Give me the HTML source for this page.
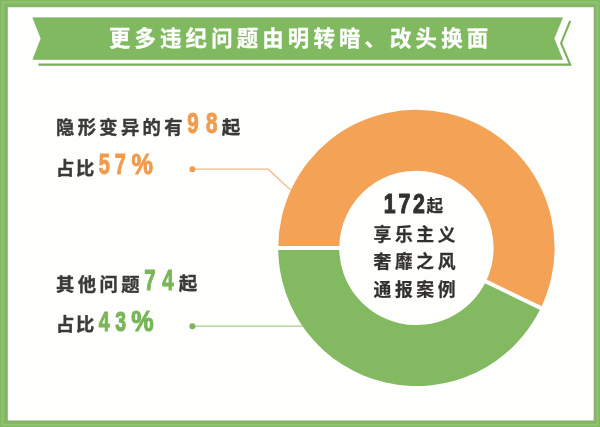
<!DOCTYPE html>
<html lang="zh-CN">
<head>
<meta charset="utf-8">
<title>更多违纪问题由明转暗、改头换面</title>
<style>
html,body{margin:0;padding:0;background:#fff;}
body{width:600px;height:427px;overflow:hidden;}
svg{display:block;}
.cjk{font-family:"Liberation Sans","Noto Sans CJK SC",sans-serif;font-weight:700;}
.lb{stroke:#3a3a38;stroke-width:0.4;stroke-linejoin:round;}
.cb{stroke:#33312f;stroke-width:0.25;stroke-linejoin:round;}
.num{font-family:"Liberation Sans",sans-serif;font-weight:700;}
</style>
</head>
<body>
<svg width="600" height="427" viewBox="0 0 600 427">
  <!-- frame -->
  <rect x="0" y="0" width="600" height="427" fill="#82b862"/>
  <rect x="2.6" y="2.4" width="595" height="422.4" fill="none" stroke="#8ec46c" stroke-width="2.2"/>
  <rect x="7.2" y="6.7" width="587" height="414.3" fill="#fefefc" stroke="#84aa6c" stroke-width="1"/>

  <!-- banner shadow outline -->
  <polyline points="570.2,20.9 561.1,43.2 570.2,64.6 38.4,64.6" fill="none" stroke="#79b05b" stroke-width="2.1" stroke-linejoin="miter"/>
  <!-- banner -->
  <polygon points="32.8,17.8 562.5,17.8 554,38.6 562.5,59.4 32.9,59.4 41,38.6" fill="#80b960" stroke="#74ab58" stroke-width="0.6"/>
  <text class="cjk" x="108.9" y="46.1" font-size="21.4" letter-spacing="4.17" fill="#fff" stroke="#fff" stroke-width="0.3">更多违纪问题由明转暗、改头换面</text>

  <!-- donut -->
  <path fill="#f4a256" d="M278.20,247.90 A138.2 138.2 0 1 1 540.82,308.05 L485.90,281.50 A77.2 77.2 0 1 0 339.20,247.90Z"/>
  <path fill="#82b961" d="M540.82,308.05 A138.2 138.2 0 0 1 278.20,247.90 L339.20,247.90 A77.2 77.2 0 0 0 485.90,281.50Z"/>
  <line x1="275" y1="247.9" x2="342" y2="247.9" stroke="#fefefc" stroke-width="4"/>
  <line x1="484.10" y1="280.63" x2="542.62" y2="308.92" stroke="#fefefc" stroke-width="4"/>

  <!-- leader lines -->
  <polyline points="192.5,169.2 268.2,169.2 290.5,190" fill="none" stroke="#f0b98c" stroke-width="1.2"/>
  <circle cx="192.4" cy="169.2" r="3" fill="#ee9c55"/>
  <line x1="192.5" y1="326.2" x2="303" y2="326.2" stroke="#a5cf8f" stroke-width="1.2"/>
  <circle cx="192.4" cy="326.2" r="3" fill="#78b659"/>

  <!-- labels -->
  <text class="cjk lb" x="56" y="134.1" font-size="18.3" letter-spacing="3.35" fill="#3a3a38">隐形变异的有</text>
  <text class="num" transform="translate(187.17,133.36) scale(0.698,1)" font-size="29.38" letter-spacing="10.53" fill="#f09c4e" stroke="#f09c4e" stroke-width="1.1" stroke-linejoin="round">98</text>
  <text class="cjk lb" x="221.8" y="133.7" font-size="18.5" fill="#3a3a38">起</text>

  <text class="cjk lb" x="56.1" y="174.6" font-size="18.3" letter-spacing="1.6" fill="#3a3a38">占比</text>
  <text class="num" transform="translate(98.77,174.16) scale(0.683,1)" font-size="29.24" letter-spacing="7.22" fill="#f09c4e" stroke="#f09c4e" stroke-width="1.1" stroke-linejoin="round">57</text>
  <text class="num" transform="translate(131.61,174.22) scale(0.831,1)" font-size="28.99" letter-spacing="0.00" fill="#f09c4e" stroke="#f09c4e" stroke-width="1.1" stroke-linejoin="round">%</text>

  <text class="cjk lb" x="56" y="290.7" font-size="18.3" letter-spacing="3.45" fill="#3a3a38">其他问题</text>
  <text class="num" transform="translate(144.32,290.25) scale(0.680,1)" font-size="30.09" letter-spacing="9.73" fill="#78b659" stroke="#78b659" stroke-width="1.1" stroke-linejoin="round">74</text>
  <text class="cjk lb" x="178.8" y="290.3" font-size="18.5" fill="#3a3a38">起</text>

  <text class="cjk lb" x="56.1" y="331.3" font-size="18.3" letter-spacing="1.6" fill="#3a3a38">占比</text>
  <text class="num" transform="translate(98.70,331.13) scale(0.686,1)" font-size="28.33" letter-spacing="8.33" fill="#78b659" stroke="#78b659" stroke-width="1.1" stroke-linejoin="round">43</text>
  <text class="num" transform="translate(131.31,331.23) scale(0.883,1)" font-size="28.57" letter-spacing="0.00" fill="#78b659" stroke="#78b659" stroke-width="1.1" stroke-linejoin="round">%</text>

  <!-- centre text -->
  <text class="num" transform="translate(383.85,212.75) scale(0.748,1)" font-size="28.50" letter-spacing="3.67" fill="#33312f" stroke="#33312f" stroke-width="1.1" stroke-linejoin="round">172</text>
  <text class="cjk cb" x="426.6" y="211.6" font-size="16.6" fill="#33312f">起</text>
  <text class="cjk cb" x="373.6" y="240.6" font-size="17.8" letter-spacing="3.6" fill="#33312f">享乐主义</text>
  <text class="cjk cb" x="373.6" y="268.3" font-size="17.8" letter-spacing="3.6" fill="#33312f">奢靡之风</text>
  <text class="cjk cb" x="373.6" y="295.8" font-size="17.8" letter-spacing="3.6" fill="#33312f">通报案例</text>
</svg>
</body>
</html>
